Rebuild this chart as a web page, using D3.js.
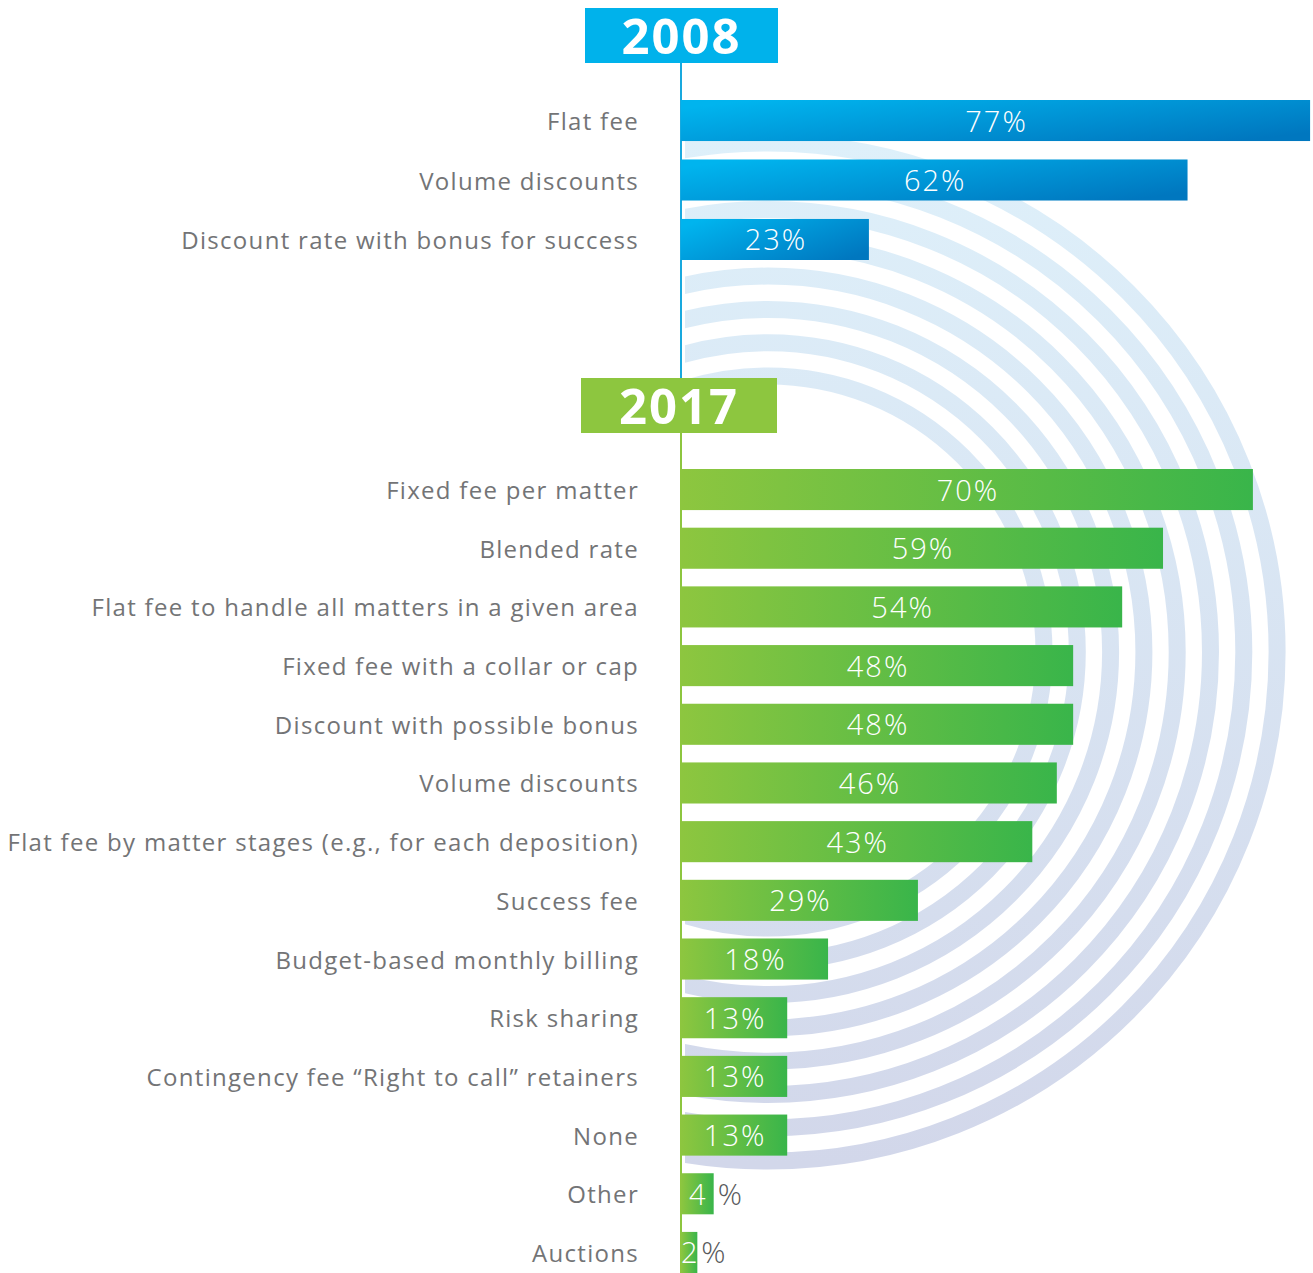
<!DOCTYPE html>
<html>
<head>
<meta charset="utf-8">
<script src="https://cdn.jsdelivr.net/npm/d3@7"></script>
<style>
  html, body { margin: 0; padding: 0; background: #ffffff; }
  svg { display: block; }
</style>
</head>
<body>
<div id="chart"></div>
<script>
// Alternative fee arrangements used, 2008 vs 2017 (share of respondents, %)
const years = ["2008", "2017"];

const categories2008 = [
  "Flat fee",
  "Volume discounts",
  "Discount rate with bonus for success"
];
const values2008 = [77, 62, 23];

const categories2017 = [
  "Fixed fee per matter",
  "Blended rate",
  "Flat fee to handle all matters in a given area",
  "Fixed fee with a collar or cap",
  "Discount with possible bonus",
  "Volume discounts",
  "Flat fee by matter stages (e.g., for each deposition)",
  "Success fee",
  "Budget-based monthly billing",
  "Risk sharing",
  "Contingency fee \u201CRight to call\u201D retainers",
  "None",
  "Other",
  "Auctions"
];
const values2017 = [70, 59, 54, 48, 48, 46, 43, 29, 18, 13, 13, 13, 4, 2];

const W = 1313, H = 1273;
const axisX = 681;
const labelX = 639;
const labelFont = "'Open Sans', 'DejaVu Sans', sans-serif";

const svg = d3.select("#chart").append("svg")
  .attr("width", W).attr("height", H);

const defs = svg.append("defs");

// bar gradients
const gBlue = defs.append("linearGradient").attr("id", "grad-blue")
  .attr("x1", 0).attr("y1", 0.2).attr("x2", 1).attr("y2", 0.8);
gBlue.append("stop").attr("offset", "0%").attr("stop-color", "#00b4ee");
gBlue.append("stop").attr("offset", "100%").attr("stop-color", "#0077bf");

const gGreen = defs.append("linearGradient").attr("id", "grad-green")
  .attr("x1", 0).attr("y1", 0).attr("x2", 1).attr("y2", 0);
gGreen.append("stop").attr("offset", "0%").attr("stop-color", "#8dc63f");
gGreen.append("stop").attr("offset", "100%").attr("stop-color", "#39b54a");

// background ring gradient
const gRing = defs.append("linearGradient").attr("id", "grad-ring")
  .attr("gradientUnits", "userSpaceOnUse")
  .attr("x1", 0).attr("y1", 140).attr("x2", 0).attr("y2", 1165);
gRing.append("stop").attr("offset", "0%").attr("stop-color", "#def0fa");
gRing.append("stop").attr("offset", "100%").attr("stop-color", "#d2d7ea");

defs.append("clipPath").attr("id", "ring-clip")
  .append("rect").attr("x", axisX + 4).attr("y", 0).attr("width", W).attr("height", H);

// decorative concentric rings behind the bars
const ringCenter = [768, 652];
const ringRadii = d3.range(8).map(i => 276 + i * 33.3);
svg.append("g").attr("clip-path", "url(#ring-clip)")
  .selectAll("circle").data(ringRadii).join("circle")
  .attr("cx", ringCenter[0]).attr("cy", ringCenter[1])
  .attr("r", d => d)
  .attr("fill", "none")
  .attr("stroke", "url(#grad-ring)")
  .attr("stroke-width", 17);

const x = d3.scaleLinear().domain([0, 100]).range([axisX, axisX + 817]);

const y2008 = d3.scaleBand().domain(categories2008)
  .range([100, 260]).paddingInner(0.31).paddingOuter(0);
const y2017 = d3.scaleBand().domain(categories2017)
  .range([469, 1273]).paddingInner(0.30).paddingOuter(0);

// vertical axis lines
svg.append("line").attr("x1", axisX).attr("x2", axisX)
  .attr("y1", 63).attr("y2", 378)
  .attr("stroke", "#19a9de").attr("stroke-width", 2);
svg.append("line").attr("x1", axisX).attr("x2", axisX)
  .attr("y1", 433).attr("y2", H)
  .attr("stroke", "#8dc63f").attr("stroke-width", 2);

function drawGroup(cats, vals, y, fill) {
  const data = cats.map((c, i) => ({ c, v: vals[i] }));
  const g = svg.append("g");

  g.selectAll("text.cat").data(data).join("text")
    .attr("class", "cat")
    .attr("x", labelX)
    .attr("y", d => y(d.c) + y.bandwidth() / 2 + 9.5)
    .attr("text-anchor", "end")
    .attr("font-family", labelFont)
    .attr("font-size", 24)
    .attr("letter-spacing", 1.3)
    .attr("fill", "#737476")
    .text(d => d.c);

  g.selectAll("rect.bar").data(data).join("rect")
    .attr("class", "bar")
    .attr("x", x(0))
    .attr("y", d => y(d.c))
    .attr("width", d => x(d.v) - x(0))
    .attr("height", y.bandwidth())
    .attr("fill", fill);

  const lab = g.selectAll("g.val").data(data).join("g").attr("class", "val");
  lab.append("text")
    .attr("x", d => (x(0) + x(d.v)) / 2 + 1)
    .attr("y", d => y(d.c) + y.bandwidth() / 2 + 11)
    .attr("text-anchor", "middle")
    .attr("font-family", labelFont)
    .attr("font-weight", 300)
    .attr("font-size", 29)
    .attr("letter-spacing", 2)
    .attr("fill", "#ffffff")
    .text(d => d.v >= 10 ? d.v + "%" : d.v);
  // small bars: the percent sign sits outside the bar
  lab.filter(d => d.v < 10).append("text")
    .attr("x", d => x(d.v) + 4)
    .attr("y", d => y(d.c) + y.bandwidth() / 2 + 11)
    .attr("font-family", labelFont)
    .attr("font-weight", 300)
    .attr("font-size", 30)
    .attr("fill", "#58595b")
    .text("%");
}

drawGroup(categories2008, values2008, y2008, "url(#grad-blue)");
drawGroup(categories2017, values2017, y2017, "url(#grad-green)");

// year headers
const headers = [
  { year: years[0], x: 585, y: 8, w: 193, fill: "#00b2eb" },
  { year: years[1], x: 581, y: 378, w: 196, fill: "#8dc63f" }
];
const hg = svg.selectAll("g.hdr").data(headers).join("g").attr("class", "hdr");
hg.append("rect")
  .attr("x", d => d.x).attr("y", d => d.y)
  .attr("width", d => d.w).attr("height", 55)
  .attr("fill", d => d.fill);
hg.append("text")
  .attr("x", d => d.x + d.w / 2)
  .attr("y", d => d.y + 46)
  .attr("text-anchor", "middle")
  .attr("font-family", labelFont)
  .attr("font-weight", 700)
  .attr("font-size", 49)
  .attr("letter-spacing", 2)
  .attr("fill", "#ffffff")
  .text(d => d.year);
</script>
</body>
</html>
